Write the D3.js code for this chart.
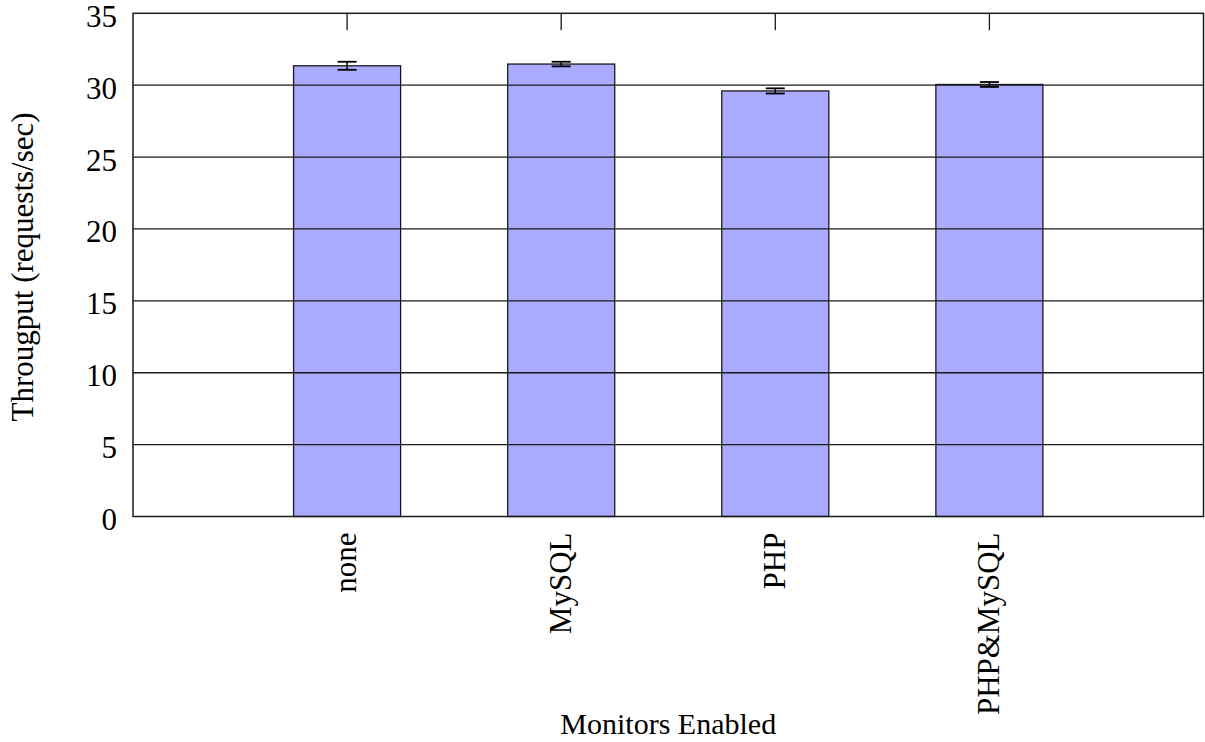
<!DOCTYPE html>
<html>
<head>
<meta charset="utf-8">
<script src="https://cdn.jsdelivr.net/npm/d3@7/dist/d3.min.js"></script>
<style>
  html, body { margin: 0; padding: 0; background: #fff; }
  svg { display: block; }
  text { font-family: "Liberation Serif", "DejaVu Serif", serif; fill: #000; }
</style>
</head>
<body>
<svg id="chart" width="1205" height="742"></svg>
<script>
// ---- data ----
const categories = ["none", "MySQL", "PHP", "PHP&MySQL"];
const throughput = [31.35, 31.47, 29.6, 30.05];
const errors = [0.28, 0.16, 0.18, 0.17];
const yTicks = [0, 5, 10, 15, 20, 25, 30, 35];
const xLabel = "Monitors Enabled";
const yLabel = "Througput (requests/sec)";

// ---- layout ----
const W = 1205, H = 742;
const m = { left: 133, right: 1.5, top: 13.3, bottom: 225.5 };
const plotL = m.left, plotR = W - m.right, plotT = m.top, plotB = H - m.bottom;

const svg = d3.select("#chart");

const x = d3.scaleLinear().domain([-1, 4]).range([plotL, plotR]);
const y = d3.scaleLinear().domain([0, 35]).range([plotB, plotT]);
const barW = x(0.5) - x(0);

// bars
svg.append("g").selectAll("rect")
  .data(throughput)
  .join("rect")
  .attr("x", (d, i) => x(i) - barW / 2)
  .attr("y", d => y(d))
  .attr("width", barW)
  .attr("height", d => y(0) - y(d))
  .attr("fill", "#aaaaff")
  .attr("stroke", "#1a1a1a")
  .attr("stroke-width", 1.3);

// grid (front)
svg.append("g").selectAll("line")
  .data(yTicks.filter(t => t > 0 && t < 35))
  .join("line")
  .attr("x1", plotL).attr("x2", plotR)
  .attr("y1", d => y(d)).attr("y2", d => y(d))
  .attr("stroke", "#1a1a1a")
  .attr("stroke-width", 1.3);

// error bars
const eg = svg.append("g").attr("stroke", "#000").attr("stroke-width", 1.5);
throughput.forEach((v, i) => {
  const cx = x(i), e = errors[i];
  eg.append("line").attr("x1", cx).attr("x2", cx).attr("y1", y(v + e)).attr("y2", y(v - e));
  eg.append("line").attr("x1", cx - 9.5).attr("x2", cx + 9.5).attr("y1", y(v + e)).attr("y2", y(v + e)).attr("stroke-width", 1.8);
  eg.append("line").attr("x1", cx - 9.5).attr("x2", cx + 9.5).attr("y1", y(v - e)).attr("y2", y(v - e)).attr("stroke-width", 1.8);
});

// top mirror ticks
svg.append("g").selectAll("line")
  .data(categories)
  .join("line")
  .attr("x1", (d, i) => x(i)).attr("x2", (d, i) => x(i))
  .attr("y1", plotT).attr("y2", plotT + 17)
  .attr("stroke", "#1a1a1a").attr("stroke-width", 1.3);

// frame
svg.append("rect")
  .attr("x", plotL).attr("y", plotT)
  .attr("width", plotR - plotL).attr("height", plotB - plotT)
  .attr("fill", "none").attr("stroke", "#1a1a1a").attr("stroke-width", 1.5);

// y axis labels
const yAxis = d3.axisLeft(y).tickValues(yTicks).tickSize(0).tickPadding(16);
const ya = svg.append("g").attr("transform", `translate(${plotL},0)`).call(yAxis);
ya.select(".domain").remove();
ya.selectAll("text")
  .style("font-family", '"Liberation Serif", serif')
  .style("font-size", "31px")
  .attr("dy", "0.42em");

// x category labels (rotated)
svg.append("g").selectAll("text")
  .data(categories)
  .join("text")
  .attr("transform", (d, i) => `translate(${x(i)},${plotB + 16}) rotate(-90)`)
  .attr("text-anchor", "end")
  .attr("dy", "0.3em")
  .style("font-size", "31px")
  .text(d => d);

// axis titles
svg.append("text")
  .attr("x", (plotL + plotR) / 2)
  .attr("y", 734)
  .attr("text-anchor", "middle")
  .style("font-size", "30px")
  .text(xLabel);

svg.append("text")
  .attr("transform", `translate(33,${(plotT + plotB) / 2 + 2}) rotate(-90)`)
  .attr("text-anchor", "middle")
  .style("font-size", "31px")
  .text(yLabel);
</script>
</body>
</html>
